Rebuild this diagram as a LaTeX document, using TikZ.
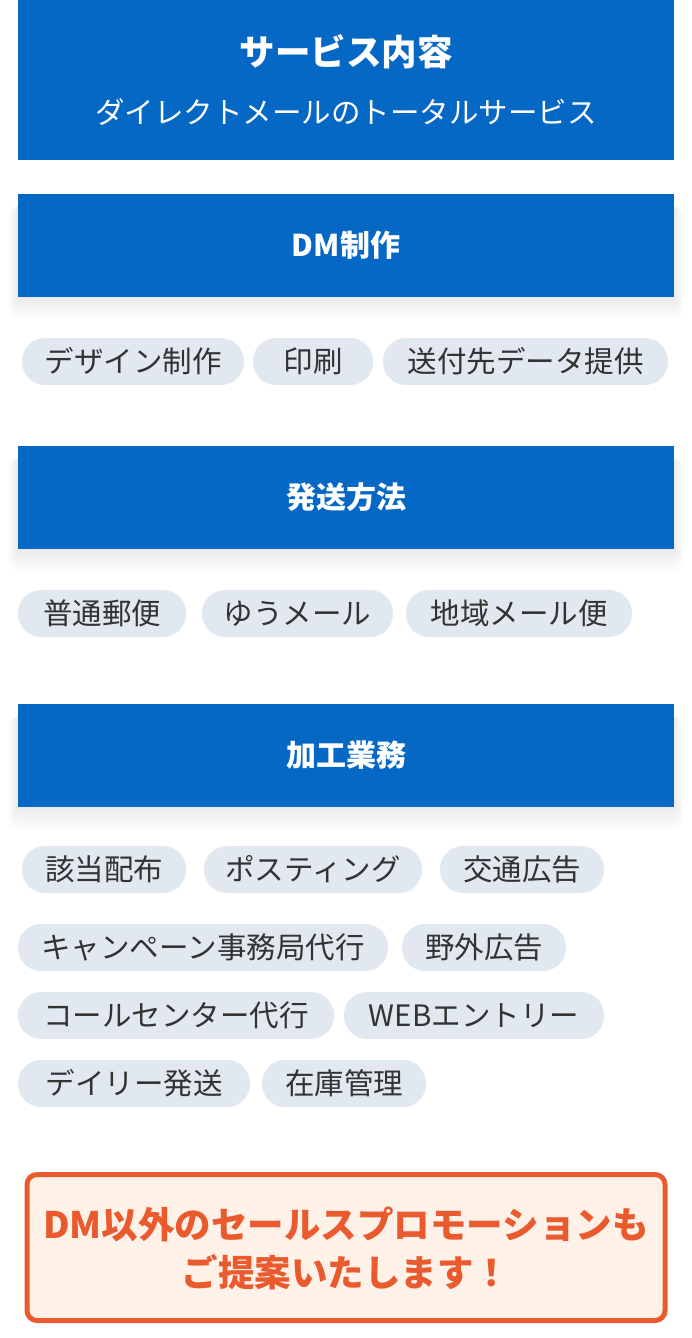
\documentclass[tikz,border=0pt]{standalone}
\usepackage{fontspec}
\setmainfont{Noto Sans CJK JP}
\definecolor{hdrblue}{HTML}{0568C4}
\definecolor{chipbg}{HTML}{E1E8F0}
\definecolor{chiptext}{HTML}{333333}
\definecolor{accent}{HTML}{E95B2E}
\definecolor{accentbg}{HTML}{FEF1E8}
\tikzset{
  hdrbox/.style={fill=hdrblue, draw=none, inner sep=0pt, minimum width=656pt},
  secbox/.style={hdrbox, minimum height=103pt},
  shadowlayer/.style={fill=black, opacity=0.0035, draw=none},
  sectext/.style={text=white, font=\fontsize{30}{35}\selectfont\bfseries},
  chip/.style={fill=chipbg, draw=none, rounded corners=23pt, minimum height=47pt, inner sep=0pt,
    text=chiptext, font=\fontsize{29.5}{34}\selectfont},
  callout/.style={fill=accentbg, draw=accent, line width=5pt, rounded corners=10pt, inner sep=0pt},
  callouttext/.style={text=accent, font=\fontsize{36.5}{48}\selectfont\bfseries, align=center}
}
\newcommand{\mkchip}[5]{\node[chip, minimum width={#3-#2}] (#1) at ({(#2+#3)/2},#4) {#5};}
\newcommand{\secshadow}[2]{%
  \foreach \i in {1,...,20}{\fill[shadowlayer, rounded corners={0.6*\i}] ({18-0.5*\i},{#1+12}) rectangle ({674+0.5*\i},{#2+1.2*\i});}}
\begin{document}
\begin{tikzpicture}[x=1pt,y=-1pt]
\useasboundingbox[fill=white] (0,0) rectangle (692,1338);
% top header
\node[hdrbox, minimum height=160pt] (top) at (346,80) {};
\node[text=white, font=\fontsize{35.5}{40}\selectfont\bfseries] (title) at (346,52) {サービス内容};
\node[text=white, font=\fontsize{29.5}{34}\selectfont] (subtitle) at (346,112) {ダイレクトメールのトータルサービス};
% DM制作
\secshadow{194}{297}
\node[secbox] (dm) at (346,245.5) {};
\node[sectext] (dmt) at (346,245.5) {DM制作};
\mkchip{c1}{22}{244}{361.5}{デザイン制作}
\mkchip{c2}{253}{373}{361.5}{印刷}
\mkchip{c3}{383}{668}{361.5}{送付先データ提供}
% 発送方法
\secshadow{446}{549}
\node[secbox] (ship) at (346,497.5) {};
\node[sectext] (shipt) at (346,497.5) {発送方法};
\mkchip{s1}{18}{186}{613.5}{普通郵便}
\mkchip{s2}{202}{393}{613.5}{ゆうメール}
\mkchip{s3}{406}{632}{613.5}{地域メール便}
% 加工業務
\secshadow{704}{807}
\node[secbox] (proc) at (346,755.5) {};
\node[sectext] (proct) at (346,755.5) {加工業務};
\mkchip{p1}{22}{186}{869.5}{該当配布}
\mkchip{p2}{204}{422}{869.5}{ポスティング}
\mkchip{p3}{440}{604}{869.5}{交通広告}
\mkchip{p4}{18}{388}{947.5}{キャンペーン事務局代行}
\mkchip{p5}{402}{566}{947.5}{野外広告}
\mkchip{p6}{18}{334}{1015.5}{コールセンター代行}
\mkchip{p7}{344}{604}{1015.5}{WEBエントリー}
\mkchip{p8}{18}{250}{1083.5}{デイリー発送}
\mkchip{p9}{262}{426}{1083.5}{在庫管理}
% callout
\node[callout, minimum width=638pt, minimum height=146pt] (call) at (346,1247.5) {};
\node[callouttext] (callt) at (346,1248) {DM以外のセールスプロモーションも\\ご提案いたします！};
\end{tikzpicture}
\end{document}
